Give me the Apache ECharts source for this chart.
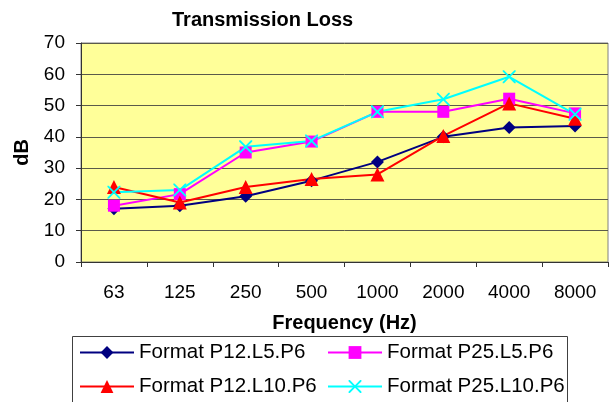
<!DOCTYPE html>
<html>
<head>
<meta charset="utf-8">
<script src="https://cdn.jsdelivr.net/npm/echarts@6/dist/echarts.min.js"></script>
<style>html,body{margin:0;padding:0;background:#fff}#c{width:610px;height:402px}</style>
</head>
<body>
<div id="c"></div>
<script>
var categories = ['63', '125', '250', '500', '1000', '2000', '4000', '8000'];
var seriesNames = ['Format P12.L5.P6', 'Format P25.L5.P6', 'Format P12.L10.P6', 'Format P25.L10.P6'];
var p12L5 = [17, 18, 21, 26, 32, 40, 43, 43.5];
var p25L5 = [18, 21.7, 35, 38.5, 48, 48, 52.2, 47.5];
var p12L10 = [24, 19, 24, 26.5, 28, 40.3, 50.7, 45.8];
var p25L10 = [22.3, 23, 36.8, 38.7, 48, 52, 59.2, 47.2];
var yTicks = { min: 0, max: 70, interval: 10 };

var font = 'Liberation Sans, Arial, sans-serif';
var xPath = 'path://M0,0 L2,0 L10,8 L18,0 L20,0 L20,2 L12,10 L20,18 L20,20 L18,20 L10,12 L2,20 L0,20 L0,18 L8,10 L0,2 Z';

function mk(name, data, color, symbol, size) {
  return {
    name: name, type: 'line', data: data,
    symbol: symbol, symbolSize: size,
    lineStyle: { color: color, width: 2 },
    itemStyle: { color: color },
    emphasis: { disabled: true },
    z: 3
  };
}

var legendText = { fontFamily: font, fontSize: 20.5, color: '#000' };
var legendCommon = { itemWidth: 54, itemHeight: 16, padding: 0, textStyle: legendText };

var chart = echarts.init(document.getElementById('c'), null, { renderer: 'canvas' });
chart.setOption({
  animation: false,
  backgroundColor: '#ffffff',
  textStyle: { fontFamily: font },
  title: {
    text: 'Transmission Loss', left: 167, top: 5,
    textStyle: { fontFamily: font, fontSize: 20, fontWeight: 'bold', color: '#000' }
  },
  grid: {
    left: 81, right: 2, top: 43, bottom: 140,
    show: true, backgroundColor: '#FFFF99', borderColor: '#808080', borderWidth: 1
  },
  graphic: [{
    type: 'rect', left: 72, top: 336, z: 0,
    shape: { width: 495, height: 80 },
    style: { fill: '#fff', stroke: '#404040', lineWidth: 1 }
  }],
  legend: [
    Object.assign({ data: [seriesNames[0]], left: 79, top: 342 }, legendCommon),
    Object.assign({ data: [seriesNames[1]], left: 327, top: 342 }, legendCommon),
    Object.assign({ data: [seriesNames[2]], left: 79, top: 376 }, legendCommon),
    Object.assign({ data: [seriesNames[3]], left: 327, top: 376 }, legendCommon)
  ],
  xAxis: {
    type: 'category', data: categories, boundaryGap: true,
    name: 'Frequency (Hz)', nameLocation: 'middle', nameGap: 51,
    nameTextStyle: { fontFamily: font, fontSize: 20, fontWeight: 'bold', color: '#000' },
    axisLine: { lineStyle: { color: '#333', width: 1 } },
    axisTick: { show: true, inside: false, length: 5, alignWithLabel: false, lineStyle: { color: '#333' } },
    axisLabel: { fontFamily: font, fontSize: 19, color: '#000', margin: 21 },
    splitLine: { show: false }
  },
  yAxis: {
    type: 'value', min: yTicks.min, max: yTicks.max, interval: yTicks.interval,
    name: 'dB', nameLocation: 'middle', nameGap: 46,
    nameTextStyle: { fontFamily: font, fontSize: 20, fontWeight: 'bold', color: '#000' },
    axisLine: { show: true, lineStyle: { color: '#333', width: 1 } },
    axisTick: { show: true, length: 5, lineStyle: { color: '#333' } },
    axisLabel: { fontFamily: font, fontSize: 19, color: '#000', margin: 16 },
    splitLine: { show: true, lineStyle: { color: '#5a5a4a', width: 1 } }
  },
  series: [
    mk(seriesNames[0], p12L5, '#000080', 'diamond', 13),
    mk(seriesNames[1], p25L5, '#FF00FF', 'rect', 12),
    mk(seriesNames[2], p12L10, '#FF0000', 'triangle', 14),
    mk(seriesNames[3], p25L10, '#00FFFF', xPath, 13)
  ]
});
</script>
</body>
</html>
